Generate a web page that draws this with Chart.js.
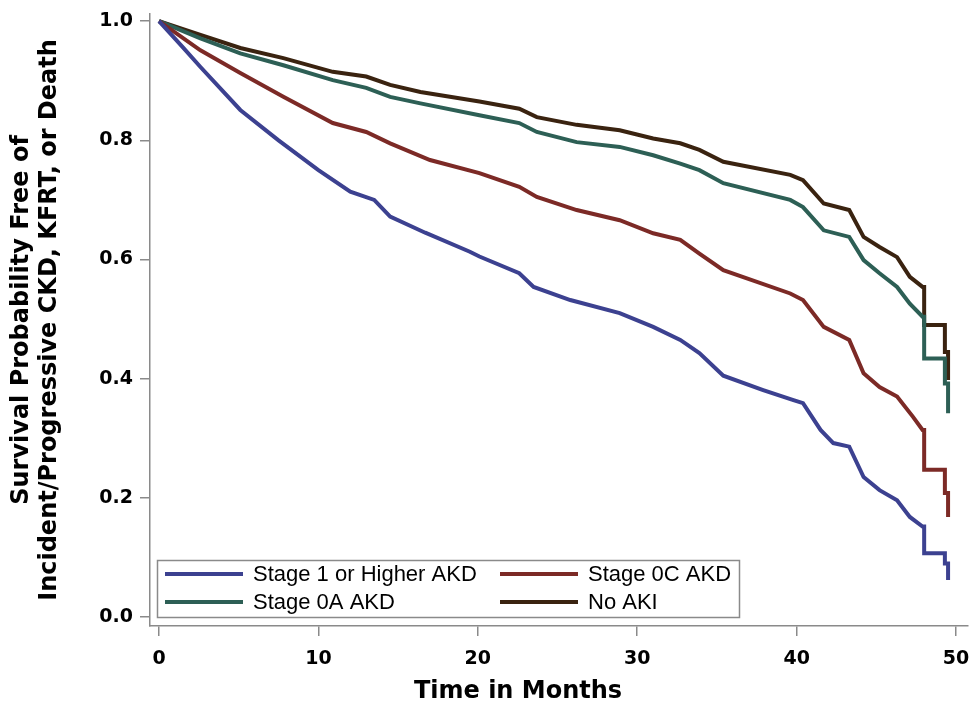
<!DOCTYPE html>
<html>
<head>
<meta charset="utf-8">
<script src="https://cdn.jsdelivr.net/npm/chart.js@4.4.1/dist/chart.umd.min.js"></script>
<style>
  body { margin: 0; background: #fff; }
  canvas { display: block; }
</style>
</head>
<body>
<canvas id="km" width="971" height="713"></canvas>
<script>
// group names, in legend order
const groupLabels = ['Stage 1 or Higher AKD', 'Stage 0C AKD', 'Stage 0A AKD', 'No AKI'];

// Stage 1 or higher AKD
const akd1Months = [0, 1.5, 2.6, 5.1, 7.5, 10, 12, 13.5, 14.5, 16.7, 19.5, 20.1, 22.6, 23.5, 25.8, 28.9, 31, 32.7, 33.9, 35.4,
  37.9, 39.8, 40.4, 41.5, 42.3, 43.3, 44.2, 45.2, 46.3, 47.1, 47.9, 48.0, 48.0, 49.3, 49.3, 49.5, 49.5];
const akd1Surv = [1.0, 0.956, 0.923, 0.851, 0.80, 0.75, 0.714, 0.70, 0.672, 0.645, 0.613, 0.605, 0.577, 0.554, 0.532, 0.510, 0.487, 0.465, 0.443, 0.405,
  0.381, 0.364, 0.359, 0.314, 0.292, 0.286, 0.235, 0.213, 0.196, 0.168, 0.152, 0.152, 0.107, 0.107, 0.09, 0.09, 0.062];

// Stage 0C AKD
const akd0cMonths = [0, 2.6, 5.1, 7.8, 10.9, 13, 14.5, 17, 20.1, 22.6, 23.7, 26.2, 28.9, 31, 32.7, 33.9, 35.4, 39.6, 40.4, 41.7,
  43.3, 44.2, 45.2, 46.3, 47.3, 47.9, 48.0, 48.0, 49.3, 49.3, 49.5, 49.5];
const akd0cSurv = [1.0, 0.951, 0.913, 0.873, 0.829, 0.814, 0.795, 0.767, 0.745, 0.722, 0.705, 0.683, 0.666, 0.644, 0.633, 0.61, 0.582, 0.543, 0.532, 0.487,
  0.465, 0.409, 0.386, 0.37, 0.336, 0.314, 0.314, 0.247, 0.247, 0.208, 0.208, 0.168];

// Stage 0A AKD
const akd0aMonths = [0, 2.6, 5.1, 7.8, 10.9, 13, 14.5, 16.4, 20.1, 22.6, 23.7, 26.2, 28.9, 31, 32.7, 33.9, 35.4, 39.6, 40.4, 41.7,
  43.3, 44.2, 45.2, 46.3, 47.1, 47.9, 48.0, 48.0, 49.3, 49.3, 49.5, 49.5];
const akd0aSurv = [1.0, 0.971, 0.946, 0.926, 0.901, 0.888, 0.873, 0.862, 0.842, 0.829, 0.814, 0.797, 0.789, 0.775, 0.761, 0.75, 0.728, 0.70, 0.688, 0.649,
  0.638, 0.599, 0.577, 0.554, 0.526, 0.504, 0.504, 0.434, 0.434, 0.392, 0.392, 0.342];

// No AKI
const noAkiMonths = [0, 2.6, 5.1, 7.8, 10.9, 13, 14.5, 16.4, 20.1, 22.6, 23.7, 26.2, 28.9, 31, 32.7, 33.9, 35.4, 39.6, 40.4, 41.7,
  43.3, 44.2, 45.2, 46.3, 47.1, 47.9, 48.0, 48.0, 49.3, 49.3, 49.5, 49.5];
const noAkiSurv = [1.0, 0.977, 0.955, 0.938, 0.915, 0.907, 0.893, 0.881, 0.865, 0.853, 0.839, 0.826, 0.817, 0.803, 0.795, 0.784, 0.764, 0.742, 0.733, 0.694,
  0.683, 0.638, 0.621, 0.604, 0.571, 0.554, 0.554, 0.49, 0.49, 0.445, 0.445, 0.398];

const xTicks = [0, 10, 20, 30, 40, 50];
const yTicks = [0, 0.2, 0.4, 0.6, 0.8, 1.0];

const lineColors = ['#3c4190', '#7c2a26', '#2d5f55', '#3a2310'];
const axisGray = '#8a8a8a';

function toPoints(months, surv) {
  return months.map((m, i) => ({ x: m, y: surv[i] }));
}

const series = [
  toPoints(akd1Months, akd1Surv),
  toPoints(akd0cMonths, akd0cSurv),
  toPoints(akd0aMonths, akd0aSurv),
  toPoints(noAkiMonths, noAkiSurv)
];

// legend box inside the plot + the axis titles
const overlay = {
  id: 'overlay',
  afterDatasetsDraw(chart) {
    const ctx = chart.ctx;
    ctx.save();
    ctx.fillStyle = '#fff';
    ctx.fillRect(157, 560, 583, 58);
    ctx.strokeStyle = axisGray;
    ctx.lineWidth = 1.5;
    ctx.strokeRect(157.5, 560.5, 582, 57);

    const cols = [165, 500];
    const rows = [574, 602];
    ctx.font = '22px "Liberation Sans", Arial, sans-serif';
    ctx.textBaseline = 'middle';
    ctx.textAlign = 'left';
    chart.data.datasets.forEach((ds, i) => {
      const x = cols[i % 2], y = rows[Math.floor(i / 2)];
      ctx.strokeStyle = ds.borderColor;
      ctx.lineWidth = 4;
      ctx.beginPath();
      ctx.moveTo(x, y);
      ctx.lineTo(x + 78, y);
      ctx.stroke();
      ctx.fillStyle = '#000';
      ctx.fillText(ds.label, x + 88, y + 1);
    });

    // axis titles
    ctx.fillStyle = '#000';
    ctx.font = 'bold 24px "DejaVu Sans", sans-serif';
    ctx.textAlign = 'center';
    ctx.fillText('Time in Months', 518, 692);

    ctx.translate(0, 320);
    ctx.rotate(-Math.PI / 2);
    ctx.fillText('Survival Probability Free of', 0, 22);
    ctx.fillText('Incident/Progressive CKD, KFRT, or Death', 0, 50);
    ctx.restore();
  }
};

const tickFont = { family: 'DejaVu Sans', size: 19, weight: 'bold' };

new Chart(document.getElementById('km').getContext('2d'), {
  type: 'line',
  data: {
    datasets: series.map((pts, i) => ({
      label: groupLabels[i],
      data: pts,
      borderColor: lineColors[i],
      backgroundColor: lineColors[i],
      borderWidth: 4,
      pointRadius: 0,
      tension: 0,
      fill: false
    }))
  },
  options: {
    responsive: false,
    animation: false,
    layout: { padding: { top: 14, right: 3, left: 0, bottom: 0 } },
    plugins: {
      legend: { display: false },
      tooltip: { enabled: false }
    },
    scales: {
      x: {
        type: 'linear',
        min: -0.565,
        max: 50.75,
        afterBuildTicks: scale => { scale.ticks = xTicks.map(v => ({ value: v })); },
        afterFit: scale => {
          scale.height = 87;
          scale.paddingLeft = 0;
          scale.paddingRight = 0;
        },
        grid: { drawOnChartArea: false, tickLength: 10, color: axisGray, lineWidth: 1.5 },
        border: { color: axisGray, width: 1.5 },
        ticks: { font: tickFont, color: '#000', padding: 12, maxRotation: 0, callback: v => v }
      },
      y: {
        min: -0.015,
        max: 1.012,
        afterBuildTicks: scale => { scale.ticks = yTicks.map(v => ({ value: v })); },
        afterFit: scale => {
          scale.width = 150;
          scale.paddingTop = 0;
          scale.paddingBottom = 0;
        },
        grid: { drawOnChartArea: false, tickLength: 10, color: axisGray, lineWidth: 1.5 },
        border: { color: axisGray, width: 1.5 },
        ticks: { font: tickFont, color: '#000', padding: 7, callback: v => v.toFixed(1) }
      }
    }
  },
  plugins: [overlay]
});
</script>
</body>
</html>
